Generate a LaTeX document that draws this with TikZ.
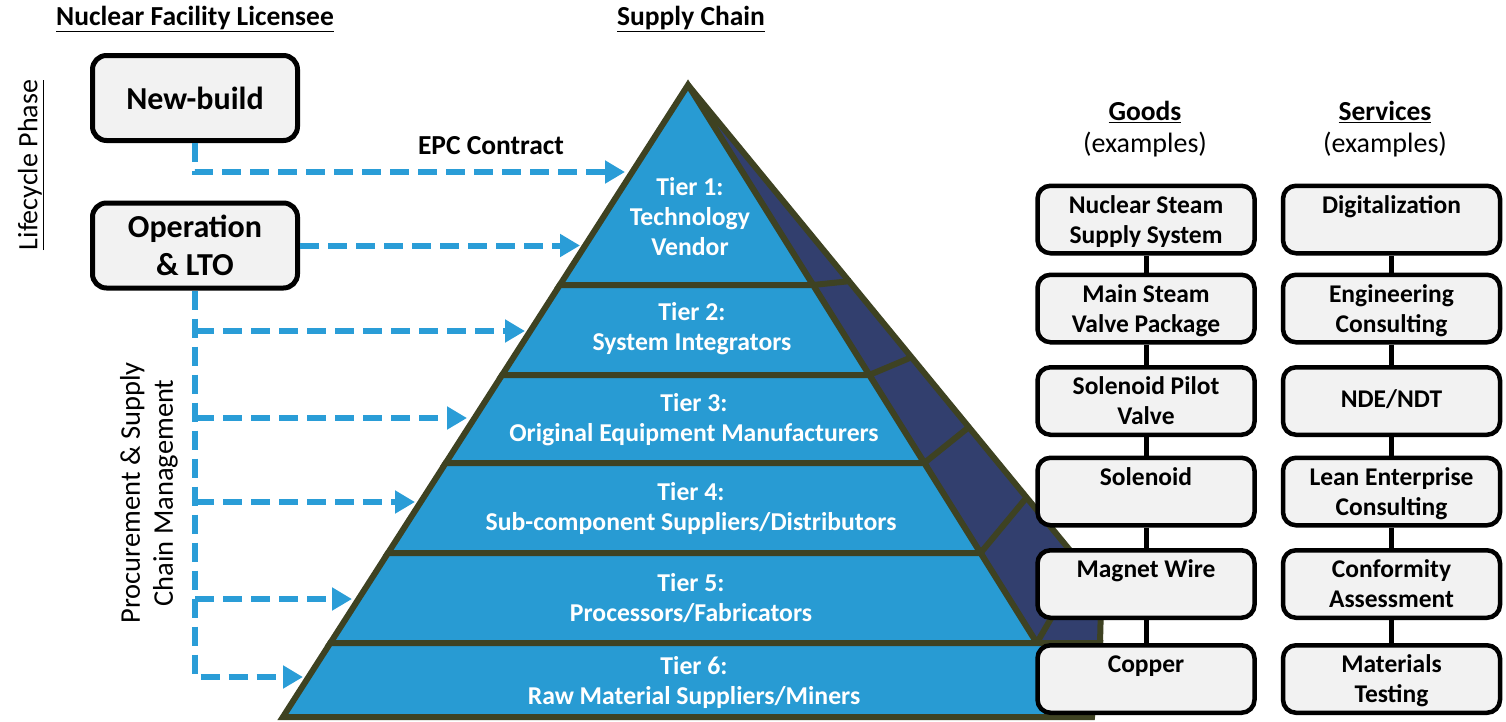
\documentclass[tikz,border=0pt]{standalone}
\usepackage{fontspec}
\setmainfont{Carlito}
\usetikzlibrary{arrows.meta}
\definecolor{pblue}{RGB}{40,155,211}
\definecolor{pdark}{RGB}{50,63,110}
\definecolor{polive}{RGB}{62,66,34}
\definecolor{arrblue}{RGB}{42,157,215}
\definecolor{boxgray}{RGB}{242,242,242}
\newcommand\tstr{\rule{0pt}{26pt}}
\tikzset{
  lbox/.style={draw=black, line width=5pt, rounded corners=14pt, fill=boxgray,
    minimum width=205pt, minimum height=85pt, align=center, inner sep=0pt,
    font=\fontsize{32}{38}\selectfont\bfseries},
  gbox/.style={draw=black, line width=4.5pt, rounded corners=13pt, fill=boxgray,
    minimum width=217pt, minimum height=67.5pt, align=center, inner sep=0pt,
    font=\fontsize{25.5}{30}\selectfont\bfseries},
  tiertext/.style={text=white, align=center, inner sep=0pt,
    font=\fontsize{25.7}{30}\selectfont\bfseries},
  head/.style={inner sep=0pt, font=\fontsize{27.5}{30}\selectfont\bfseries},
  sub/.style={inner sep=0pt, font=\fontsize{28}{30}\selectfont},
  darrow/.style={draw=arrblue, line width=6pt, dash pattern=on 19pt off 9pt,
    -{Triangle[length=20pt,width=22pt]}},
  tierface/.style={fill=pblue, draw=polive, line width=6pt},
  sep/.style={draw=polive, line width=6pt},
  link/.style={draw=black, line width=5pt},
}
\begin{document}
\begin{tikzpicture}[x=1pt,y=-1pt]
\useasboundingbox (0,0) rectangle (1506,721);

% ---- pyramid back (dark) face
\filldraw[fill=pdark, draw=polive, line width=6pt]
  (688,85) -- (1082,565) -- (1101,605) -- (1100,643) -- (1036.75,643) -- cycle;
% ---- front tiers
\filldraw[tierface] (688,85) -- (813,285) -- (559.8,285) -- cycle;
\filldraw[tierface] (559.8,285) -- (813,285) -- (869.25,375) -- (502.1,375) -- cycle;
\filldraw[tierface] (502.1,375) -- (869.25,375) -- (924.25,463) -- (445.7,463) -- cycle;
\filldraw[tierface] (445.7,463) -- (924.25,463) -- (980.5,553) -- (388.0,553) -- cycle;
\filldraw[tierface] (388.0,553) -- (980.5,553) -- (1036.75,643) -- (330.3,643) -- cycle;
\filldraw[tierface] (330.3,643) -- (1100,643) -- (1092,717) -- (282.9,717) -- cycle;
% ---- separators on dark face
\draw[sep] (813,285) -- (851,281);
\draw[sep] (869.25,375) -- (912,357);
\draw[sep] (924.25,463) -- (969,427);
\draw[sep] (980.5,553) -- (1027,497);
\draw[sep] (1036.75,643) -- (1082,565);

% ---- tier labels
\node[tiertext] (tier1) at (690,217) {Tier 1:\\Technology\\Vendor};
\node[tiertext] (tier2) at (692,329) {Tier 2:\\System Integrators};
\node[tiertext] (tier3) at (694,420) {Tier 3:\\Original Equipment Manufacturers};
\node[tiertext] (tier4) at (691,508) {Tier 4:\\Sub-component Suppliers/Distributors};
\node[tiertext] (tier5) at (691,598) {Tier 5:\\Processors/Fabricators};
\node[tiertext] (tier6) at (694,682) {Tier 6:\\Raw Material Suppliers/Miners};

% ---- headings
\node[head] (hlic) at (195,19) {\underline{Nuclear Facility Licensee}};
\node[head] (hsc) at (691,19) {\underline{Supply Chain}};
\node[head] (epc) at (491,146) {EPC Contract};
\node[sub, rotate=90] (life) at (31,165) {\underline{Lifecycle Phase}};
\node[sub, rotate=90, align=center, font=\fontsize{28.5}{33}\selectfont] (proc) at (149,493)
  {Procurement \& Supply\\Chain Management};
\node[head] (hgoods) at (1145,112) {\underline{Goods}};
\node[sub] (egoods) at (1145,145) {(examples)};
\node[head] (hserv) at (1385,112) {\underline{Services}};
\node[sub] (eserv) at (1385,145) {(examples)};

% ---- licensee boxes
\node[lbox] (nb) at (195,98) {New-build};
\node[lbox] (op) at (195,245.5) {Operation\\\& LTO};

% ---- arrow ends
\coordinate (a0) at (625,172);
\coordinate (a1) at (580,245.5);
\coordinate (b2) at (195,331);
\coordinate (a2) at (525,331);
\coordinate (b3) at (195,418);
\coordinate (a3) at (467,418);
\coordinate (b4) at (195,502);
\coordinate (a4) at (415,502);
\coordinate (b5) at (195,599);
\coordinate (a5) at (352,599);
\coordinate (a6) at (303,677);

\draw[darrow] (nb.south) |- (a0);
\draw[darrow] (op.east) -- (a1);
\draw[darrow] (op.south) |- (a6);
\draw[darrow] (b2) -- (a2);
\draw[darrow] (b3) -- (a3);
\draw[darrow] (b4) -- (a4);
\draw[darrow] (b5) -- (a5);

% ---- goods column
\node[gbox] (g1) at (1146,219.5) {\tstr Nuclear Steam\\\strut Supply System};
\node[gbox] (g2) at (1146,308.5) {\tstr Main Steam\\\strut Valve Package};
\node[gbox] (g3) at (1146,401) {\tstr Solenoid Pilot\\\strut Valve};
\node[gbox] (g4) at (1146,491.5) {\tstr Solenoid\\\strut};
\node[gbox] (g5) at (1146,584) {\tstr Magnet Wire\\\strut};
\node[gbox] (g6) at (1146,679) {\tstr Copper\\\strut};
\draw[link] (g1.south) -- (g2.north);
\draw[link] (g2.south) -- (g3.north);
\draw[link] (g3.south) -- (g4.north);
\draw[link] (g4.south) -- (g5.north);
\draw[link] (g5.south) -- (g6.north);

% ---- services column
\node[gbox] (s1) at (1391.5,219.5) {\tstr Digitalization\\\strut};
\node[gbox] (s2) at (1391.5,308.5) {\tstr Engineering\\\strut Consulting};
\node[gbox] (s3) at (1391.5,401) {\strut NDE/NDT};
\node[gbox] (s4) at (1391.5,491.5) {\tstr Lean Enterprise\\\strut Consulting};
\node[gbox] (s5) at (1391.5,584) {\tstr Conformity\\\strut Assessment};
\node[gbox] (s6) at (1391.5,679) {\tstr Materials\\\strut Testing};
\draw[link] (s1.south) -- (s2.north);
\draw[link] (s2.south) -- (s3.north);
\draw[link] (s3.south) -- (s4.north);
\draw[link] (s4.south) -- (s5.north);
\draw[link] (s5.south) -- (s6.north);
\end{tikzpicture}
\end{document}
